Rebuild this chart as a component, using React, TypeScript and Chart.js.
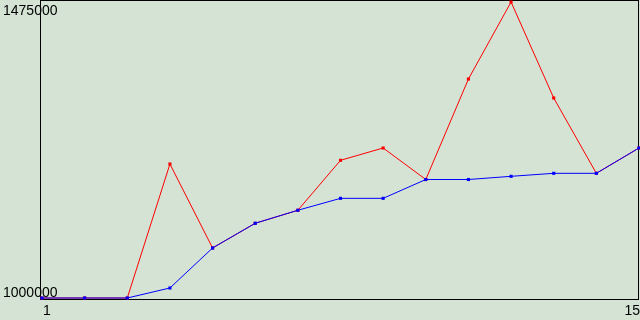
import React, { useEffect, useRef } from "react";
import { Chart, registerables } from "chart.js";

Chart.register(...registerables);

const categories = ["1", "2", "3", "4", "5", "6", "7", "8", "9", "10", "11", "12", "13", "14", "15"];
const blueValues = [1000000, 1000000, 1000000, 1016000, 1080000, 1119500, 1140300, 1159400, 1159400, 1189500, 1189500, 1194600, 1199400, 1199400, 1239900];
const redValues = [1000000, 1000000, 1000000, 1214300, 1080000, 1119500, 1140300, 1220200, 1239900, 1189500, 1350200, 1473400, 1319900, 1199400, 1239900];
const yMin = 1000000;
const yMax = 1475000;
const yTickLabels = ["1000000", "1475000"];
const xTickLabels = ["1", "15"];

const BG = "#d4e3d4";
const FONT = "14px 'Liberation Sans', Arial, sans-serif";

const framePlugin = {
  id: "frameAndLabels",
  beforeDraw(chart: any) {
    const { ctx, width, height } = chart;
    ctx.save();
    ctx.fillStyle = BG;
    ctx.fillRect(0, 0, width, height);
    ctx.restore();
  },
  beforeDatasetsDraw(chart: any) {
    const { ctx, chartArea } = chart;
    ctx.save();
    ctx.strokeStyle = "#000000";
    ctx.lineWidth = 1;
    const l = chartArea.left - 1.5;
    const t = chartArea.top - 0.5;
    const r = chartArea.right - 0.5;
    const b = chartArea.bottom + 1.5;
    ctx.strokeRect(l, t, r - l, b - t);
    ctx.restore();
  },
  afterDraw(chart: any) {
    const { ctx, scales } = chart;
    const x = scales.x;
    const y = scales.y;
    ctx.save();
    ctx.font = FONT;
    ctx.fillStyle = "#000000";
    ctx.textBaseline = "alphabetic";
    ctx.textAlign = "left";
    ctx.fillText(yTickLabels[0], 3, y.getPixelForValue(yMin) - 1);
    ctx.fillText(yTickLabels[1], 3, y.getPixelForValue(yMax) + 14);
    const base = y.getPixelForValue(yMin) + 17;
    ctx.fillText(xTickLabels[0], x.getPixelForValue(0) + 1, base);
    ctx.textAlign = "right";
    ctx.fillText(xTickLabels[1], x.getPixelForValue(categories.length - 1) + 1, base);
    ctx.restore();
  },
};

export default function App() {
  const canvasRef = useRef<HTMLCanvasElement | null>(null);

  useEffect(() => {
    document.body.style.margin = "0";
    document.body.style.background = BG;
    const canvas = canvasRef.current;
    if (!canvas) return;
    const chart = new Chart(canvas, {
      type: "line",
      data: {
        labels: categories,
        datasets: [
          {
            label: "blue",
            data: blueValues,
            borderColor: "#0000ff",
            backgroundColor: "#0000ff",
            pointBackgroundColor: "#0000ff",
            borderWidth: 1,
            pointStyle: "rect",
            pointRadius: 2.2,
            pointBorderWidth: 0,
            tension: 0,
            fill: false,
            clip: false as any,
          },
          {
            label: "red",
            data: redValues,
            borderColor: "#ff0000",
            backgroundColor: "#ff0000",
            pointBackgroundColor: "#ff0000",
            borderWidth: 1,
            pointStyle: "rect",
            pointRadius: 2.2,
            pointBorderWidth: 0,
            tension: 0,
            fill: false,
            clip: false as any,
          },
        ],
      },
      options: {
        animation: false,
        responsive: false,
        devicePixelRatio: 1,
        layout: { autoPadding: false, padding: { left: 42, right: 1, top: 1, bottom: 22 } } as any,
        plugins: {
          legend: { display: false },
          tooltip: { enabled: false },
          title: { display: false },
        },
        scales: {
          x: { display: false, offset: false },
          y: { display: false, min: yMin, max: yMax },
        },
        events: [],
      },
      plugins: [framePlugin],
    });
    return () => chart.destroy();
  }, []);

  return (
    <div style={{ width: 640, height: 320 }}>
      <canvas ref={canvasRef} width={640} height={320} style={{ display: "block" }} />
    </div>
  );
}
